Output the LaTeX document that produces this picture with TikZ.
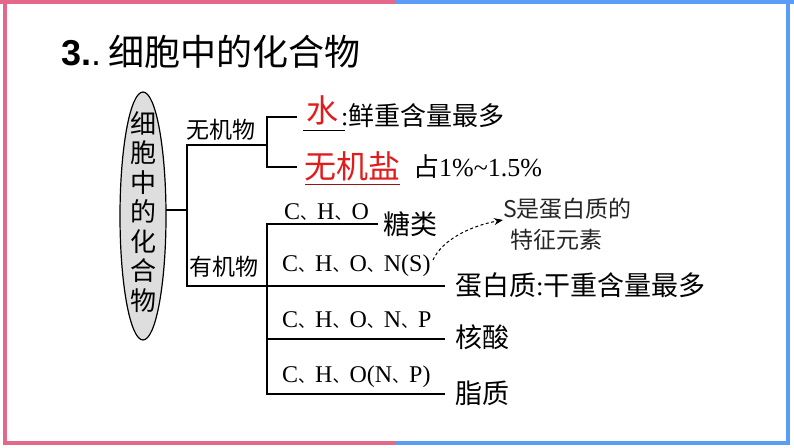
\documentclass[tikz,border=0pt]{standalone}
\usepackage{fontspec}
\setmainfont{Liberation Serif}
\newfontfamily\cjk{Noto Sans CJK SC}
\newfontfamily\titlesans{Liberation Sans}
\usetikzlibrary{arrows.meta,shapes.geometric}
\definecolor{pinkf}{RGB}{226,105,138}
\definecolor{bluef}{RGB}{90,156,246}
\definecolor{redt}{RGB}{224,28,28}
\definecolor{darkred}{RGB}{150,20,20}
\newcommand{\dn}{{\cjk\fontsize{17}{20}\selectfont 、}}
\begin{document}
\begin{tikzpicture}[x=1pt,y=-1pt,
  treeline/.style={line width=1.3pt,draw=black},
  lbl/.style={anchor=west,inner sep=0pt,font=\cjk\fontsize{23}{25}\selectfont},
  elem/.style={anchor=west,inner sep=0pt,font=\fontsize{24}{26}\selectfont},
  item/.style={anchor=west,inner sep=0pt,font=\cjk\fontsize{27}{30}\selectfont},
  redbig/.style={anchor=west,inner sep=0pt,text=redt,font=\cjk\fontsize{32}{34}\selectfont},
  note/.style={anchor=west,inner sep=0pt,text=black!85,font=\cjk\fontsize{23}{26}\selectfont}]
\useasboundingbox (0,0) rectangle (794,447);
\fill[white] (0,0) rectangle (794,447);
% frame
\fill[pinkf] (0,0) rectangle (395,4);
\fill[bluef] (395,0) rectangle (794,4);
\fill[pinkf] (3,0) rectangle (7,445);
\fill[pinkf] (3,441) rectangle (395,445);
\fill[bluef] (395,441) rectangle (790,445);
\fill[bluef] (786,0) rectangle (790,445);
% title
\node[anchor=west,inner sep=0pt] (title) at (61,52)
  {\fontsize{36}{40}\selectfont{\titlesans\bfseries 3.}{\titlesans .}\hspace{7pt}{\cjk 细胞中的化合物}};
% ellipse
\node[ellipse,draw,line width=1.2pt,fill=black!13,minimum width=46pt,minimum height=248pt,inner sep=0pt] (cell) at (143,216) {};
\node[align=center,inner sep=0pt,font=\cjk\fontsize{26}{29.5}\selectfont] (celltxt) at (143,212) {细\\胞\\中\\的\\化\\合\\物};
% tree coordinates
\coordinate (c0) at (166,210);
\coordinate (a0) at (187,210);
\coordinate (a1) at (187,145);
\coordinate (a2) at (187,286);
\coordinate (b1) at (267,145);
\coordinate (u0) at (267,117);
\coordinate (u1) at (267,167);
\coordinate (u0e) at (297,117);
\coordinate (u1e) at (297,167);
\coordinate (l0) at (267,224);
\coordinate (l0e) at (378,224);
\coordinate (l1) at (267,286);
\coordinate (l1e) at (445,286);
\coordinate (l2) at (267,339);
\coordinate (l2e) at (445,339);
\coordinate (l3) at (267,394);
\coordinate (l3e) at (445,394);
\draw[treeline] (c0) -- (a0);
\draw[treeline] (b1) -- (a1) -- (a2) -- (l1e);
\draw[treeline] (u0e) -- (u0) -- (u1) -- (u1e);
\draw[treeline] (l0e) -- (l0) -- (l3) -- (l3e);
\draw[treeline] (l2) -- (l2e);
% labels
\node[lbl] (inorg) at (186,130) {无机物};
\node[lbl] (org) at (189,267) {有机物};
\node[redbig] (water) at (306,110) {水};
\node[anchor=west,inner sep=0pt] (watertxt) at (341,116) {\fontsize{26}{28}\selectfont:{\cjk 鲜重含量最多}};
\draw[line width=1pt] (303,130) -- (345,130);
\node[redbig] (salt) at (304,166) {无机盐};
\node[anchor=west,inner sep=0pt] (salttxt) at (413,167) {\fontsize{26}{28}\selectfont{\cjk 占}1\%\char`\~1.5\%};
\draw[line width=1pt,darkred] (305,184) -- (400,184);
% organic
\node[elem] (e0) at (284,212) {C\dn H\dn O};
\node[item] (sugar) at (383,224) {糖类};
\node[elem] (e1) at (282,266) {C\dn H\dn O\dn N(S)};
\node[item] (protein) at (455,285) {蛋白质{\rmfamily:}干重含量最多};
\node[elem] (e2) at (282,320) {C\dn H\dn O\dn N\dn P};
\node[item] (nucleic) at (455,337) {核酸};
\node[elem] (e3) at (282,377) {C\dn H\dn O(N\dn P)};
\node[item] (lipid) at (455,393) {脂质};
% note
\node[note] (note1) at (503,209) {S是蛋白质的};
\node[note] (note2) at (510,240) {特征元素};
\coordinate (arrS) at (433,260);
\draw[dashed,line width=1pt,dash pattern=on 3pt off 2.5pt,-{Stealth[length=9pt,width=7pt]}] (arrS) .. controls (442,240) and (470,226) .. (note1.south west);
\end{tikzpicture}
\end{document}
